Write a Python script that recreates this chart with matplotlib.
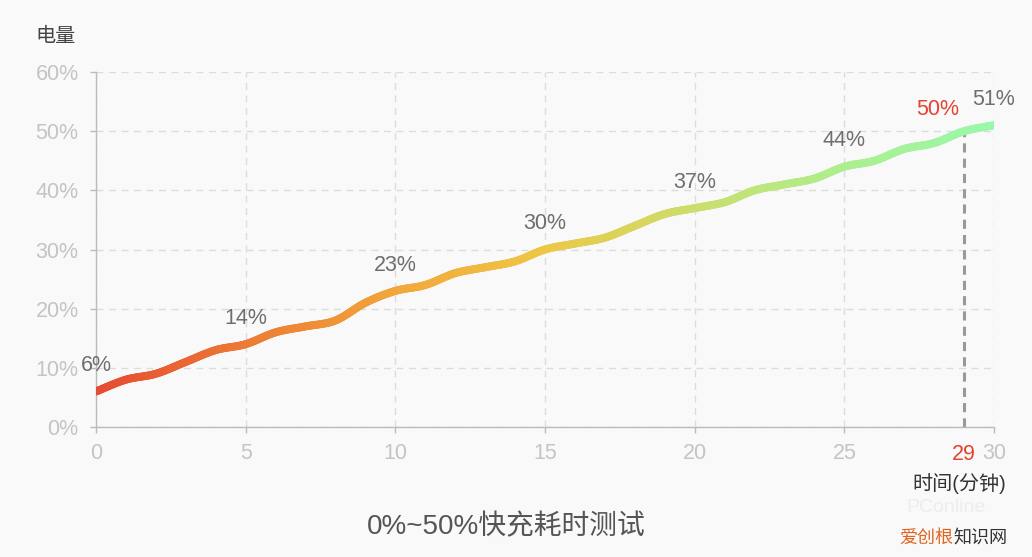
import numpy as np
import matplotlib
matplotlib.use("Agg")
import matplotlib.pyplot as plt
from matplotlib.collections import LineCollection
from matplotlib.colors import LinearSegmentedColormap

# battery level (%) read per minute
minutes = list(range(0, 31))
battery = [6, 8, 9, 11, 13, 14, 16, 17, 18, 21, 23,
           24, 26, 27, 28, 30, 31, 32, 34, 36, 37,
           38, 40, 41, 42, 44, 45, 47, 48, 50, 51]
label_minutes = [0, 5, 10, 15, 20, 25, 30]
mark_minute = 29
x_ticks = [0, 5, 10, 15, 20, 25, 30]
y_ticks = [0, 10, 20, 30, 40, 50, 60]

TICK_GRAY = "#c4c4c4"
LABEL_GRAY = "#6e6e6e"
RED = "#e5432f"

plt.rcParams["font.family"] = ["Liberation Sans", "Noto Sans CJK SC", "DejaVu Sans"]

cmap = LinearSegmentedColormap.from_list(
    "charge", ["#e64a33", "#ec7a34", "#f2a63a", "#eec746",
               "#cbde6c", "#aeee8e", "#98f8ab"])


def smooth(xs, ys, n=20):
    """Catmull-Rom spline through the points, for a smooth line."""
    xs = np.asarray(xs, float)
    ys = np.asarray(ys, float)
    px = np.concatenate([[xs[0]], xs, [xs[-1]]])
    py = np.concatenate([[ys[0]], ys, [ys[-1]]])
    out_x, out_y = [], []
    t = np.linspace(0, 1, n, endpoint=False)
    for i in range(1, len(px) - 2):
        for arr, out in ((px, out_x), (py, out_y)):
            p0, p1, p2, p3 = arr[i - 1], arr[i], arr[i + 1], arr[i + 2]
            out.extend(0.5 * (2 * p1 + (-p0 + p2) * t
                              + (2 * p0 - 5 * p1 + 4 * p2 - p3) * t ** 2
                              + (-p0 + 3 * p1 - 3 * p2 + p3) * t ** 3))
    out_x.append(xs[-1])
    out_y.append(ys[-1])
    return np.array(out_x), np.array(out_y)


fig = plt.figure(figsize=(10.32, 5.57), dpi=100, facecolor="#f9f9f9")
ax = fig.add_axes([0.093, 0.2334, 0.8702, 0.6373])
ax.set_facecolor("#f9f9f9")

sx, sy = smooth(minutes, battery)
pts = np.column_stack([sx, sy]).reshape(-1, 1, 2)
segs = np.concatenate([pts[:-1], pts[1:]], axis=1)
lc = LineCollection(segs, cmap=cmap, linewidth=5.7, capstyle="round", zorder=3)
lc.set_array((sx[:-1] + sx[1:]) / 2)
lc.set_clim(0, 30)
ax.add_collection(lc)

# value labels every 5 minutes
for m in label_minutes:
    ax.annotate(f"{battery[m]}%", (m, battery[m]), xytext=(0, 11),
                textcoords="offset points", ha="center", va="bottom",
                fontsize=15.5, color=LABEL_GRAY, zorder=4)

# 50% mark at 29 min
v = battery[mark_minute]
ax.plot([mark_minute, mark_minute], [0, v], color="#999999", lw=2.2,
        ls=(0, (3, 2)), zorder=2)
ax.annotate(f"{v}%", (mark_minute, v), xytext=(-19, 8),
            textcoords="offset points", ha="center", va="bottom",
            fontsize=15.5, color=RED, zorder=4)
ax.annotate(str(mark_minute), (mark_minute, 0), xycoords=("data", "data"),
            xytext=(0, -12), textcoords="offset points", ha="center", va="top",
            fontsize=15.5, color=RED, annotation_clip=False)

ax.set_xlim(0, 30)
ax.set_ylim(0, 60)
ax.set_xticks(x_ticks)
ax.set_yticks(y_ticks)
ax.set_yticklabels([f"{t}%" for t in y_ticks])
ax.tick_params(axis="both", colors="#bbbbbb", labelcolor=TICK_GRAY,
               labelsize=15.5, length=4.5, width=1)
ax.tick_params(axis="x", pad=7)
ax.tick_params(axis="y", pad=8)
ax.grid(True, color="#dcdcdc", ls=(0, (5, 4)), lw=1)
for side in ("top", "right"):
    ax.spines[side].set_visible(False)
for side in ("left", "bottom"):
    ax.spines[side].set_color("#bbbbbb")
    ax.spines[side].set_linewidth(1)
ax.set_axisbelow(True)

fig.text(0.034, 0.935, "电量", fontsize=14.5, color="#444444",
         ha="left", va="center")
fig.text(0.975, 0.132, "时间(分钟)", fontsize=14.5, color="#333333",
         ha="right", va="center")
fig.text(0.491, 0.053, "0%~50%快充耗时测试", fontsize=20, color="#555555",
         ha="center", va="center")
# watermark
fig.text(0.955, 0.088, "PConline", fontsize=14, color="#ededed",
         ha="right", va="center", zorder=0)
fig.text(0.871, 0.034, "爱创根", fontsize=13, color="#e0641e",
         ha="left", va="center")
fig.text(0.924, 0.034, "知识网", fontsize=13, color="#333333",
         ha="left", va="center")

fig.savefig("out.png", dpi=100, facecolor=fig.get_facecolor())
